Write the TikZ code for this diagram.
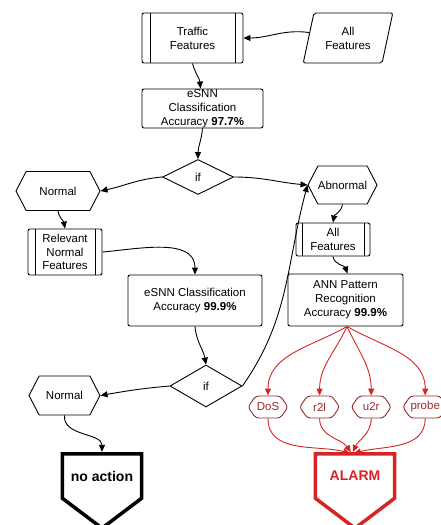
\documentclass[tikz,border=0pt]{standalone}
\usepackage{fontspec}
\setmainfont{Liberation Sans}
\usetikzlibrary{positioning,arrows.meta,shapes.geometric,shapes.symbols,calc}
\definecolor{alarmred}{RGB}{214,36,36}
\definecolor{hexred}{RGB}{150,42,42}

\begin{document}
\begin{tikzpicture}[
	x=1pt, y=1pt,
	font=\fontsize{11.5}{13.8}\selectfont,
	node distance=10.5pt,
	box/.style={
		draw,
		line width=0.9pt,
		rounded corners=2pt,
		align=center,
		inner sep=0pt,
	},
	subproc/.style={
		box,
		path picture={
			\draw[line width=0.9pt] ([xshift=#1]path picture bounding box.north west) -- ([xshift=#1]path picture bounding box.south west);
			\draw[line width=0.9pt] ([xshift=-#1]path picture bounding box.north east) -- ([xshift=-#1]path picture bounding box.south east);
		},
	},
	subproc/.default=8pt,
	io/.style={
		draw,
		line width=0.9pt,
		trapezium,
		trapezium left angle=73,
		trapezium right angle=107,
		trapezium stretches=true,
		rounded corners=2pt,
		align=center,
		inner sep=1pt,
	},
	decision/.style={
		draw,
		line width=0.9pt,
		diamond,
		inner sep=0pt,
	},
	hexa/.style={
		draw,
		line width=0.9pt,
		signal,
		signal to=east and west,
		signal pointer angle=125,
		inner sep=0pt,
	},
	attack/.style={
		hexa,
		draw=hexred,
		text=hexred,
		rounded corners=3pt,
		signal pointer angle=110,
		minimum width=40pt,
		minimum height=22pt,
	},
	endbox/.style={
		minimum width=79pt,
		minimum height=44pt,
		inner sep=0pt,
		font=\fontsize{14}{16}\selectfont\bfseries,
	},
	arr/.style={-{Triangle[length=7pt,width=6pt]}, line width=0.9pt},
	redarr/.style={arr, draw=alarmred},
]
\useasboundingbox (0,0) rectangle (440,-525);

% Horni cast: vstup a prvni klasifikace
\node[subproc, minimum width=101pt, minimum height=50pt] (traffic) at (192.5,-38) {Traffic\\Features};
\node[io, minimum width=90pt, minimum height=50pt] (allin) at (348,-38) {All\\Features};
\node[box, minimum width=121pt, minimum height=39pt] (esnnA) at (202.5,-108.5) {eSNN\\Classification\\Accuracy \textbf{97.7\%}};
\node[decision, minimum width=71pt, minimum height=35pt] (ifA) at (198,-177) {if};

% Vetve po prvnim rozhodnuti
\node[hexa, minimum width=84pt, minimum height=39pt] (normA) at (58,-191) {Normal};
\node[hexa, minimum width=65pt, minimum height=38pt] (abnorm) at (342.5,-185) {Abnormal};
\node[subproc=7pt, minimum width=74pt, minimum height=46pt] (relev) at (65,-252) {Relevant\\Normal\\Features};
\node[subproc=6pt, minimum width=74pt, minimum height=33pt] (allB) at (333,-239.5) {All\\Features};
\node[box, minimum width=134pt, minimum height=51pt] (esnnB) at (195,-300.5) {eSNN Classification\\Accuracy \textbf{99.9\%}};
\node[box, minimum width=115pt, minimum height=52pt] (ann) at (345.5,-300) {ANN Pattern\\Recognition\\Accuracy \textbf{99.9\%}};
\node[decision, minimum width=72pt, minimum height=42pt] (ifB) at (206,-386) {if};
\node[hexa, minimum width=71pt, minimum height=39pt] (normB) at (64.5,-395.5) {Normal};

% Typy utoku
\node[attack] (dos) at (268,-407) {DoS};
\node[attack, right=of dos] (rtl) {r2l};
\node[attack, right=of rtl] (utr) {u2r};
\node[attack, right=of utr] (probe) {probe};

% Koncove stavy (petiuhelnik spickou dolu)
\node[endbox] (noact) at (102,-476) {no action};
\node[endbox, text=alarmred] (alarm) at (355,-476) {ALARM};
\draw[line width=3.5pt, line join=miter] (noact.south west) -- (noact.north west) -- (noact.north east) -- (noact.south east) -- ($(noact.south)+(0,-30)$) -- cycle;
\draw[line width=3.5pt, line join=miter, alarmred] (alarm.south west) -- (alarm.north west) -- (alarm.north east) -- (alarm.south east) -- ($(alarm.south)+(0,-30)$) -- cycle;

% Spojnice
\draw[arr] (allin) to[out=172, in=0] (traffic.east);
\draw[arr] (traffic.south) to[out=-75, in=95] ([xshift=-2pt]esnnA.north);
\draw[arr] (esnnA.south) to[out=-95, in=90] (ifA.north);
\draw[arr] (ifA.west) to[out=185, in=12] (normA.east);
\draw[arr] (ifA.east) to[out=0, in=175] (abnorm.west);
\draw[arr] (normA.south) to[out=-80, in=100] (relev.north);
\draw[arr] (abnorm.south) to[out=-100, in=80] (allB.north);
\draw[arr] (relev.east) to[out=5, in=90] (esnnB.north);
\draw[arr] (allB.south) to[out=-80, in=110] ([xshift=2pt]ann.north);
\draw[arr] (esnnB.south) to[out=-85, in=100] (ifB.north);
\draw[arr] (ifB.west) to[out=185, in=10] (normB.east);
\draw[arr] (ifB.east) to[out=55, in=-105] (abnorm.west);
\draw[arr, shorten >=2pt] (normB.south) to[out=-95, in=90] (noact.north);

% Cervene spojnice k poplachu
\foreach \tgt/\ang in {dos/-150, rtl/-115, utr/-65, probe/-30}
	\draw[redarr] ([xshift=1.5pt]ann.south) to[out=\ang, in=90] (\tgt.north);
\foreach \src/\ang in {dos/165, rtl/125, utr/65, probe/15}
	\draw[redarr, shorten >=2pt] (\src.south) to[out=-90, in=\ang] ([xshift=-3pt]alarm.north);

\end{tikzpicture}
\end{document}
